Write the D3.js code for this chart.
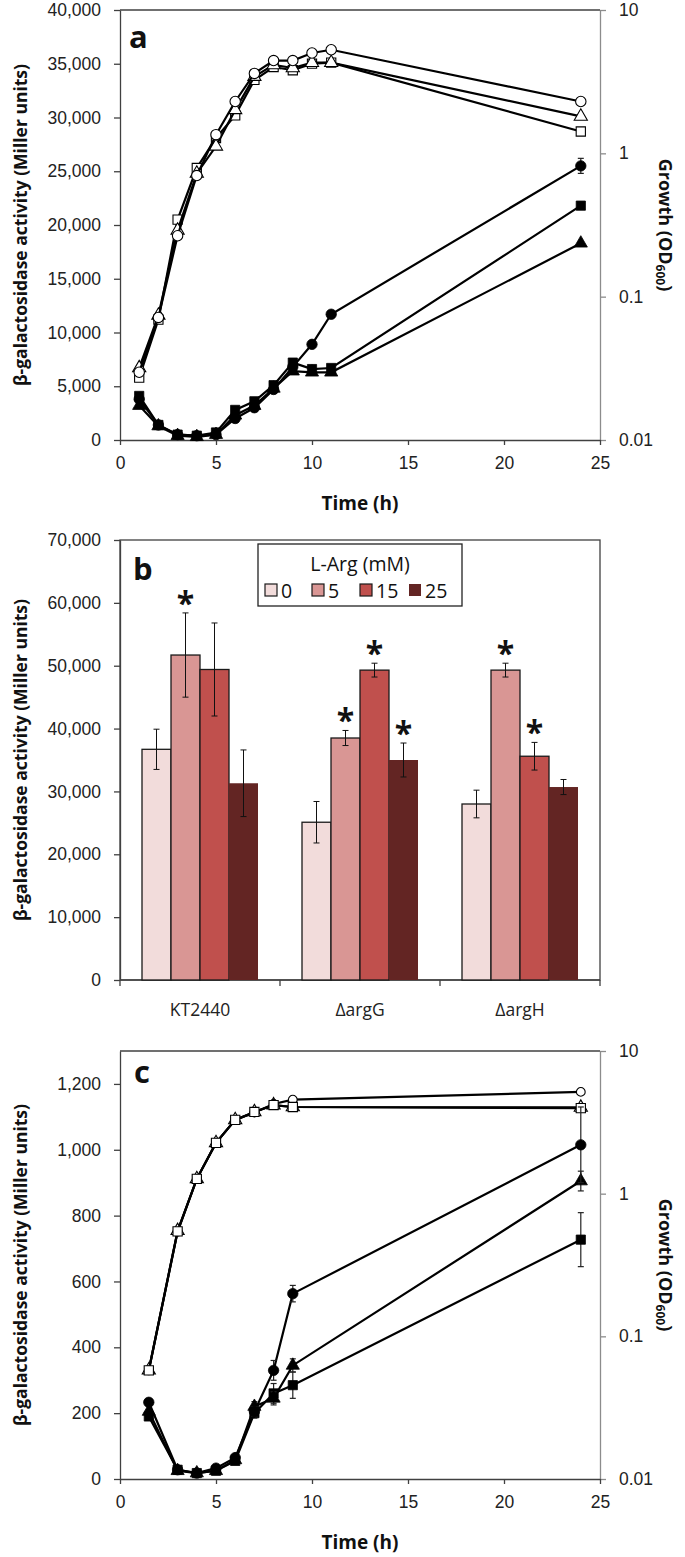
<!DOCTYPE html>
<html>
<head>
<meta charset="utf-8">
<script src="https://cdn.jsdelivr.net/npm/d3@7"></script>
<style>
  body { margin: 0; background: #fff; }
  svg { display: block; font-family: "Open Sans", "Noto Sans", sans-serif; }
</style>
</head>
<body>
<svg id="chart" width="685" height="1557"></svg>
<script>
// ---- panel a : time course, growth (open) + beta-gal (filled) ----
const timeA = [1, 2, 3, 4, 5, 6, 7, 8, 9, 10, 11, 24];
const odA_circle   = [0.0297, 0.0716, 0.266, 0.700, 1.35, 2.30, 3.61, 4.44, 4.44, 5.01, 5.28, 2.30];
const odA_triangle = [0.0318, 0.0741, 0.290, 0.724, 1.12, 2.01, 3.43, 4.14, 3.94, 4.29, 4.29, 1.81];
const odA_square   = [0.0272, 0.0692, 0.345, 0.790, 1.28, 1.84, 3.25, 4.00, 3.80, 4.22, 4.29, 1.42];
const galA_circle   = [3800, 1400, 500, 400, 500, 2000, 3000, 4700, 6800, 8900, 11700, 25500];
const galA_circleErr = [0, 0, 0, 0, 0, 0, 0, 0, 0, 0, 0, 700];
const galA_square   = [4100, 1400, 500, 400, 700, 2800, 3600, 5100, 7200, 6600, 6700, 21800];
const galA_triangle = [3200, 1300, 400, 300, 500, 2300, 3200, 4800, 6400, 6300, 6300, 18300];
const ticksA = [0, 5000, 10000, 15000, 20000, 25000, 30000, 35000, 40000];

// ---- panel b : bars ----
const strains = ["KT2440", "\u0394argG", "\u0394argH"];
const argLevels = ["0", "5", "15", "25"];
const argColors = ["#f2dcdb", "#d99694", "#c0504d", "#632523"];
const galB_0  = [36700, 25100, 28000];
const galB_5  = [51700, 38500, 49300];
const galB_15 = [49400, 49300, 35600];
const galB_25 = [31300, 35000, 30700];
const errB_0  = [3200, 3300, 2200];
const errB_5  = [6700, 1200, 1100];
const errB_15 = [7400, 1100, 2200];
const errB_25 = [5300, 2700, 1200];
const starB_0  = [false, false, false];
const starB_5  = [true, true, true];
const starB_15 = [false, true, true];
const starB_25 = [false, true, false];
const ticksB = [0, 10000, 20000, 30000, 40000, 50000, 60000, 70000];

// ---- panel c ----
const timeC = [1.5, 3, 4, 5, 6, 7, 8, 9, 24];
const odC_circle   = [0.0577, 0.54, 1.27, 2.27, 3.29, 3.70, 4.25, 4.56, 5.17];
const odC_triangle = [0.0580, 0.55, 1.27, 2.27, 3.29, 3.74, 4.18, 4.05, 4.02];
const odC_square   = [0.0577, 0.544, 1.27, 2.27, 3.29, 3.74, 4.18, 4.05, 3.98];
const galC_circle   = [233, 28, 18, 33, 65, 205, 330, 563, 1015];
const galC_circleErr = [0, 0, 0, 0, 0, 15, 30, 25, 115];
const galC_triangle = [205, 25, 18, 25, 58, 220, 245, 345, 905];
const galC_triangleErr = [0, 0, 0, 0, 0, 15, 20, 20, 30];
const galC_square   = [190, 28, 18, 25, 55, 200, 260, 285, 727];
const galC_squareErr = [0, 0, 0, 0, 0, 15, 30, 40, 82];
const ticksC = [0, 200, 400, 600, 800, 1000, 1200];

const timeTicks = [0, 5, 10, 15, 20, 25];
const odTicks = [0.01, 0.1, 1, 10];

const svg = d3.select("#chart");
const LEFT = 120, RIGHT = 600;
const axisCol = "#404040", rightCol = "#8c8c8c";
const fmt = d3.format(",");

function styleAxis(g, col) {
  g.select(".domain").attr("stroke", col).attr("stroke-width", 1.3);
  g.selectAll(".tick line").attr("stroke", col).attr("stroke-width", 1.3);
  g.selectAll(".tick text").attr("fill", "#222").attr("font-size", 17.5);
}

function yTitle(cy) {
  svg.append("text")
    .attr("transform", `translate(20,${cy}) rotate(-90)`)
    .attr("text-anchor", "middle").attr("dominant-baseline", "central")
    .attr("font-weight", "bold").attr("font-size", 17.5).attr("fill", "#111")
    .text("\u03b2-galactosidase activity (Miller units)");
}

function growthTitle(cy) {
  const t = svg.append("text")
    .attr("transform", `translate(666,${cy}) rotate(90)`)
    .attr("text-anchor", "middle").attr("dominant-baseline", "central")
    .attr("font-weight", "bold").attr("font-size", 18).attr("fill", "#111");
  t.append("tspan").text("Growth (OD");
  t.append("tspan").attr("font-size", 12).attr("dy", 5).text("600");
  t.append("tspan").attr("dy", -5).text(")");
}

function panelLetter(txt, x, y) {
  svg.append("text").attr("x", x).attr("y", y)
    .attr("font-weight", "bold").attr("font-size", 31).attr("fill", "#111").text(txt);
}

function symbolPath(type, size) {
  const t = { circle: d3.symbolCircle, square: d3.symbolSquare, triangle: d3.symbolTriangle }[type];
  return d3.symbol().type(t).size(size)();
}

function drawSeries(g, xs, ys, x, y, type, open, errs, size) {
  const pts = xs.map((t, i) => ({ t, v: ys[i], e: errs ? errs[i] : 0 }));
  g.append("path").datum(pts)
    .attr("fill", "none").attr("stroke", "#000").attr("stroke-width", 2.2)
    .attr("d", d3.line().x(d => x(d.t)).y(d => y(d.v)));
  if (errs) {
    const eb = g.append("g");
    pts.filter(d => d.e > 0).forEach(d => {
      const cx = x(d.t), y1 = y(d.v + d.e), y2 = y(d.v - d.e);
      eb.append("line").attr("x1", cx).attr("x2", cx).attr("y1", y1).attr("y2", y2)
        .attr("stroke", "#222").attr("stroke-width", 1.2);
      [y1, y2].forEach(yy => eb.append("line").attr("x1", cx - 3).attr("x2", cx + 3)
        .attr("y1", yy).attr("y2", yy).attr("stroke", "#222").attr("stroke-width", 1.2));
    });
  }
  g.selectAll(null).data(pts).join("path")
    .attr("transform", d => `translate(${x(d.t)},${y(d.v)})`)
    .attr("d", symbolPath(type, size || (type === "circle" ? 85 : type === "square" ? 85 : 75)))
    .attr("fill", open ? "#fff" : "#000")
    .attr("stroke", "#000").attr("stroke-width", open ? 1.1 : 0.8);
}

function timePanel(cfg) {
  const x = d3.scaleLinear().domain([0, 25]).range([LEFT, RIGHT]);
  const y = d3.scaleLinear().domain([0, cfg.yMax]).range([cfg.bottom, cfg.top]);
  const yr = d3.scaleLog().domain([0.01, 10]).range([cfg.bottom, cfg.top]);

  // frame top
  svg.append("line").attr("x1", LEFT).attr("x2", RIGHT).attr("y1", cfg.top).attr("y2", cfg.top)
    .attr("stroke", axisCol).attr("stroke-width", 1.3);

  const gl = svg.append("g").attr("transform", `translate(${LEFT},0)`)
    .call(d3.axisLeft(y).tickValues(cfg.ticks).tickFormat(fmt).tickSize(6).tickSizeOuter(0).tickPadding(13));
  styleAxis(gl, axisCol);

  const gr = svg.append("g").attr("transform", `translate(${RIGHT},0)`)
    .call(d3.axisRight(yr).tickValues(odTicks).tickFormat(d => String(d)).tickSize(6).tickSizeOuter(0).tickPadding(13));
  styleAxis(gr, rightCol);

  const gb = svg.append("g").attr("transform", `translate(0,${cfg.bottom})`)
    .call(d3.axisBottom(x).tickValues(timeTicks).tickSize(5).tickSizeOuter(0).tickPadding(12));
  styleAxis(gb, axisCol);

  svg.append("text").attr("x", (LEFT + RIGHT) / 2).attr("y", cfg.bottom + 70)
    .attr("text-anchor", "middle").attr("font-weight", "bold").attr("font-size", 19)
    .attr("fill", "#111").text("Time (h)");

  yTitle((cfg.top + cfg.bottom) / 2);
  growthTitle((cfg.top + cfg.bottom) / 2);

  const g = svg.append("g");
  cfg.open.forEach(s => drawSeries(g, cfg.time, s.v, x, yr, s.type, true, null, s.size));
  cfg.filled.forEach(s => drawSeries(g, cfg.time, s.v, x, y, s.type, false, s.err, s.size));
}

// panel a
timePanel({
  top: 10, bottom: 440, yMax: 40000, ticks: ticksA, time: timeA,
  open: [
    { type: "square", v: odA_square },
    { type: "triangle", v: odA_triangle },
    { type: "circle", v: odA_circle }
  ],
  filled: [
    { type: "triangle", v: galA_triangle },
    { type: "square", v: galA_square },
    { type: "circle", v: galA_circle, err: galA_circleErr }
  ]
});
panelLetter("a", 129, 48);

// panel c
timePanel({
  top: 1051, bottom: 1479, yMax: 1300, ticks: ticksC, time: timeC,
  open: [
    { type: "triangle", v: odC_triangle },
    { type: "circle", v: odC_circle, size: 60 },
    { type: "square", v: odC_square }
  ],
  filled: [
    { type: "square", v: galC_square, err: galC_squareErr },
    { type: "triangle", v: galC_triangle, err: galC_triangleErr },
    { type: "circle", v: galC_circle, err: galC_circleErr }
  ]
});
panelLetter("c", 134, 1083);

// panel b
(function () {
  const top = 540, bottom = 980;
  const x0 = d3.scaleBand().domain(strains).range([LEFT, RIGHT]).padding(0);
  const x1 = d3.scaleBand().domain(argLevels).range([22, x0.bandwidth() - 22]).padding(0);
  const y = d3.scaleLinear().domain([0, 70000]).range([bottom, top]);

  svg.append("rect").attr("x", LEFT).attr("y", top).attr("width", RIGHT - LEFT).attr("height", bottom - top)
    .attr("fill", "none").attr("stroke", axisCol).attr("stroke-width", 1.3);

  const gl = svg.append("g").attr("transform", `translate(${LEFT},0)`)
    .call(d3.axisLeft(y).tickValues(ticksB).tickFormat(fmt).tickSize(6).tickSizeOuter(0).tickPadding(13));
  styleAxis(gl, axisCol);

  const gb = svg.append("g").attr("transform", `translate(0,${bottom})`);
  gb.append("line").attr("x1", LEFT).attr("x2", RIGHT).attr("stroke", axisCol).attr("stroke-width", 1.3);
  const bounds = strains.map(s => x0(s)).concat([RIGHT]);
  gb.selectAll(null).data(bounds).join("line")
    .attr("x1", d => d).attr("x2", d => d).attr("y1", 0).attr("y2", 6)
    .attr("stroke", axisCol).attr("stroke-width", 1.3);
  gb.selectAll(null).data(strains).join("text")
    .attr("x", d => x0(d) + x0.bandwidth() / 2).attr("y", 36)
    .attr("text-anchor", "middle").attr("font-size", 17.5).attr("fill", "#222").text(d => d);

  yTitle((top + bottom) / 2);

  const vals = [galB_0, galB_5, galB_15, galB_25];
  const errs = [errB_0, errB_5, errB_15, errB_25];
  const stars = [starB_0, starB_5, starB_15, starB_25];
  const rows = [];
  strains.forEach((s, si) => argLevels.forEach((a, ai) => rows.push({
    s, a, ai, v: vals[ai][si], e: errs[ai][si], star: stars[ai][si]
  })));

  const g = svg.append("g");
  g.selectAll("rect").data(rows).join("rect")
    .attr("x", d => x0(d.s) + x1(d.a)).attr("y", d => y(d.v))
    .attr("width", x1.bandwidth()).attr("height", d => bottom - y(d.v))
    .attr("fill", d => argColors[d.ai])
    .attr("stroke", d => d.ai < 3 ? "#1a1a1a" : "none").attr("stroke-width", 1.3);

  rows.forEach(d => {
    const cx = x0(d.s) + x1(d.a) + x1.bandwidth() / 2;
    const y1 = y(d.v + d.e), y2 = y(d.v - d.e);
    g.append("line").attr("x1", cx).attr("x2", cx).attr("y1", y1).attr("y2", y2)
      .attr("stroke", "#111").attr("stroke-width", 1);
    [y1, y2].forEach(yy => g.append("line").attr("x1", cx - 3).attr("x2", cx + 3)
      .attr("y1", yy).attr("y2", yy).attr("stroke", "#111").attr("stroke-width", 1));
    if (d.star) {
      g.append("text").attr("x", cx).attr("y", y1 + 2).attr("text-anchor", "middle")
        .attr("font-size", 32).attr("font-weight", "bold").attr("fill", "#111").text("*");
    }
  });

  // legend
  const lg = svg.append("g");
  lg.append("rect").attr("x", 258).attr("y", 544).attr("width", 204).attr("height", 62)
    .attr("fill", "#fff").attr("stroke", "#222").attr("stroke-width", 1.3);
  lg.append("text").attr("x", 360).attr("y", 571).attr("text-anchor", "middle")
    .attr("font-size", 19.5).attr("fill", "#111").text("L-Arg (mM)");
  const legX = [265, 312, 360, 409];
  argLevels.forEach((a, i) => {
    lg.append("rect").attr("x", legX[i]).attr("y", 584).attr("width", 12).attr("height", 12)
      .attr("fill", argColors[i]).attr("stroke", i < 3 ? "#1a1a1a" : "none").attr("stroke-width", 1.2);
    lg.append("text").attr("x", legX[i] + 16).attr("y", 597.5).attr("font-size", 19.5)
      .attr("fill", "#111").text(a);
  });

  panelLetter("b", 133, 580);
})();
</script>
</body>
</html>
